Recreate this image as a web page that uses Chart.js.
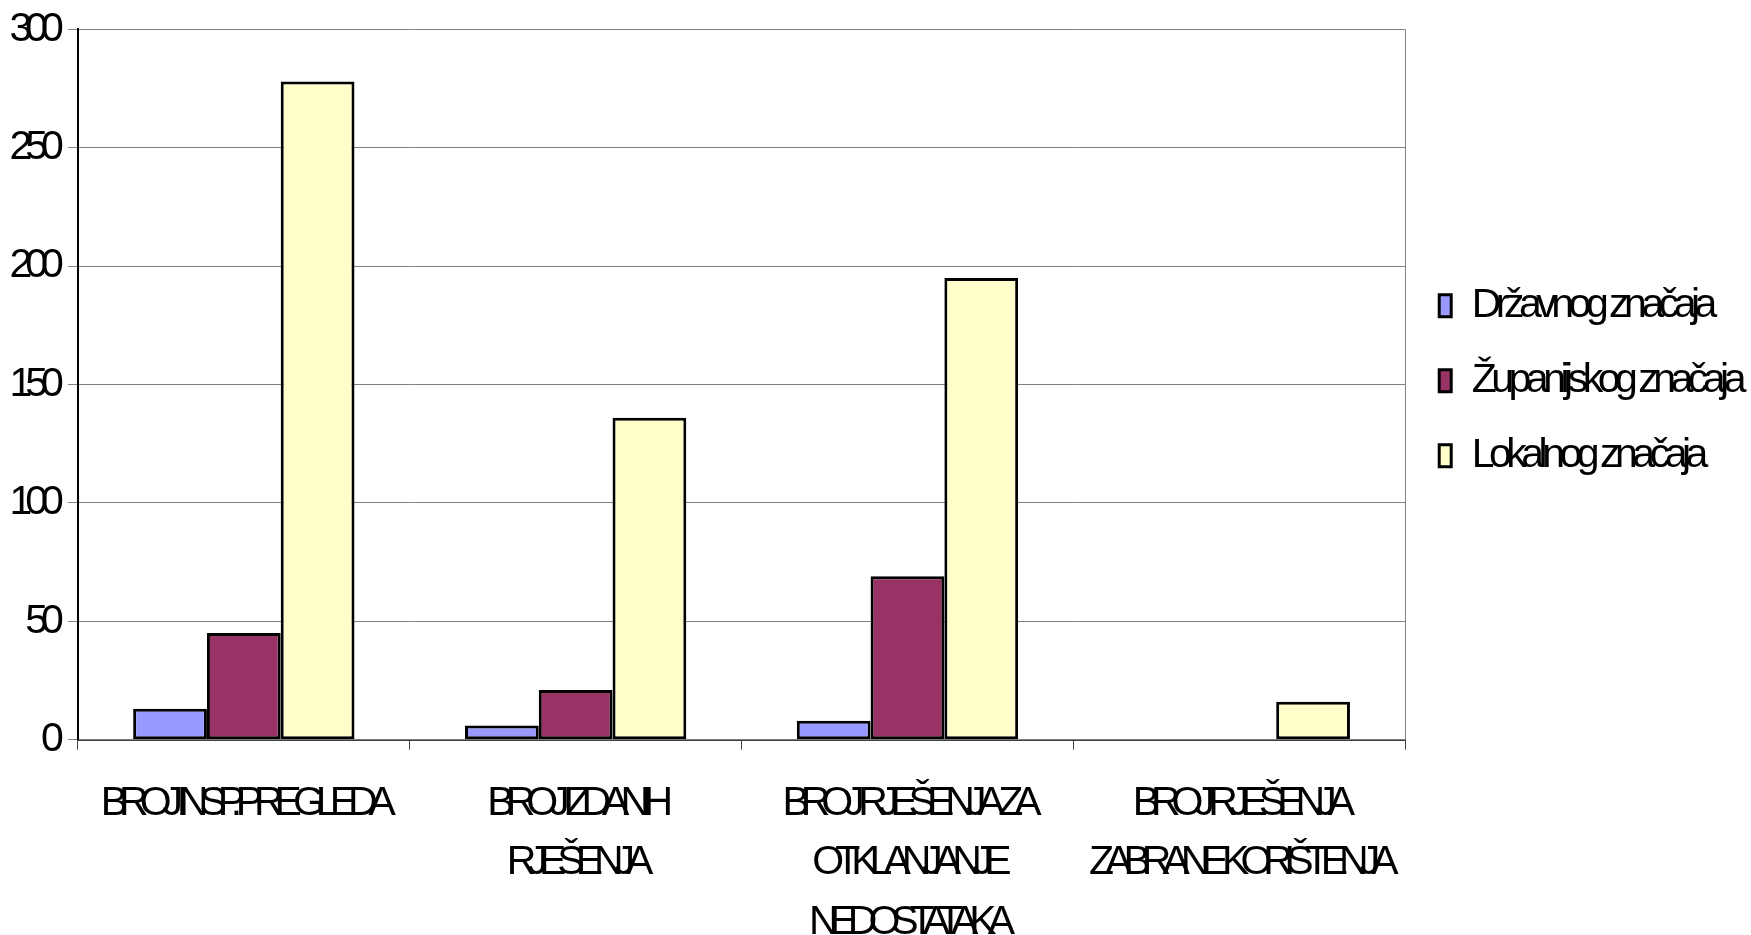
<!DOCTYPE html>
<html>
<head>
<meta charset="utf-8">
<script src="https://cdn.jsdelivr.net/npm/chart.js@4"></script>
<style>
  html,body{margin:0;padding:0;background:#fff;}
  #wrap{width:1751px;height:935px;}
</style>
</head>
<body>
<div id="wrap"><canvas id="c" width="1751" height="935"></canvas></div>
<script>
// categories + series
const categories = [
  'BROJ INSP. PREGLEDA',
  ['BROJ IZDANIH', 'RJEŠENJA'],
  ['BROJ RJEŠENJA ZA', 'OTKLANJANJE', 'NEDOSTATAKA'],
  ['BROJ RJEŠENJA', 'ZABRANE KORIŠTENJA']
];
const seriesNames = ['Državnog značaja', 'Županijskog značaja', 'Lokalnog značaja'];
const drzavnog = [13, 6, 8, 0];
const zupanijskog = [45, 21, 69, 0];
const lokalnog = [278, 136, 195, 16];
const yTicks = [0, 50, 100, 150, 200, 250, 300];

// different font strings so each part keeps its own squeeze
const FONT_X = "'Liberation Sans', Arial, sans-serif";
const FONT_Y = "'Liberation Sans', Arial, Helvetica, sans-serif";
const FONT_L = "'Liberation Sans', sans-serif";
const SQUEEZE = { x:'-9px', y:'-7px', legend:'-5.5px' };

const canvas = document.getElementById('c');
function squeeze(ctx, v){
  canvas.style.letterSpacing = v;
  void getComputedStyle(canvas).letterSpacing;
  if('letterSpacing' in ctx) ctx.letterSpacing = v;
  ctx.font = '1px serif';
}
function wrap(ctx, obj, name, v){
  const orig = obj[name];
  obj[name] = function(){ squeeze(ctx, v); return orig.apply(this, arguments); };
}

const tightText = {
  id:'tightText',
  beforeLayout(chart){
    if(chart._squeezed) return;
    chart._squeezed = true;
    const ctx = chart.ctx;
    ['fit','draw'].forEach(n => {
      wrap(ctx, chart.scales.x, n, SQUEEZE.x);
      wrap(ctx, chart.scales.y, n, SQUEEZE.y);
      wrap(ctx, chart.legend, n, SQUEEZE.legend);
    });
  },
  afterDraw(chart){
    // right edge of the plot frame
    const {ctx, chartArea:a} = chart;
    ctx.save();
    ctx.strokeStyle = '#808080'; ctx.lineWidth = 1;
    ctx.beginPath(); ctx.moveTo(Math.round(a.right)+0.5, a.top); ctx.lineTo(Math.round(a.right)+0.5, a.bottom); ctx.stroke();
    ctx.restore();
  }
};

const ds = (label, data, color) => ({ label, data, backgroundColor:color, borderColor:'#000', borderWidth:3, borderSkipped:false });

new Chart(canvas.getContext('2d'), {
  type:'bar',
  data:{
    labels: categories,
    datasets:[
      ds(seriesNames[0], drzavnog, '#9999FF'),
      ds(seriesNames[1], zupanijskog, '#993366'),
      ds(seriesNames[2], lokalnog, '#FFFFCC')
    ]
  },
  plugins:[tightText],
  options:{
    responsive:false, animation:false, devicePixelRatio:1,
    layout:{ padding:{ left:-6, top:10, right:0, bottom:-41 } },
    datasets:{ bar:{ categoryPercentage:0.667, barPercentage:1.0 } },
    plugins:{
      tooltip:{enabled:false},
      legend:{
        position:'right', align:'start',
        title:{ display:true, text:'', font:{size:1}, padding:{top:240, bottom:0} },
        labels:{ color:'#000', font:{family:FONT_L, size:41}, boxWidth:12, boxHeight:22, padding:34 }
      }
    },
    scales:{
      x:{
        grid:{ display:true, drawOnChartArea:false, drawTicks:true, tickLength:10, offset:true, color:'#404040' },
        border:{ display:true, color:'#404040', width:2 },
        ticks:{ color:'#000', font:{family:FONT_X, size:41, lineHeight:1.45}, padding:24, maxRotation:0, autoSkip:false }
      },
      y:{
        min:0, max:300,
        afterBuildTicks(scale){ scale.ticks = yTicks.map(v => ({value:v})); },
        grid:{ color:'#808080', lineWidth:1, tickLength:10, drawTicks:true },
        border:{ display:true, color:'#000', width:2 },
        ticks:{ color:'#000', font:{family:FONT_Y, size:41, lineHeight:0.9}, padding:11 }
      }
    }
  }
});
</script>
</body>
</html>
